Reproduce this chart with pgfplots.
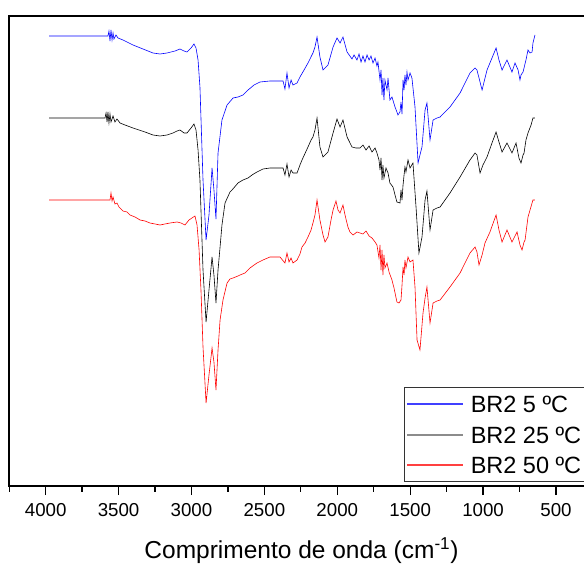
\documentclass[border=0pt]{standalone}
\usepackage{pgfplots}
\pgfplotsset{compat=1.18}
\usepackage{fontspec}
\setmainfont{Liberation Sans}
\colorlet{legblue}{blue!75}
\colorlet{leggray}{black!45}
\colorlet{legred}{red!75}
\begin{document}
\begin{tikzpicture}
\useasboundingbox (0,0) rectangle (584pt,563pt);
\clip (0,0) rectangle (584pt,563pt);
\begin{axis}[
  at={(9.25pt,77pt)}, anchor=south west,
  scale only axis, width=619.65pt, height=470pt,
  x dir=reverse, xmin=0, xmax=4250, ymin=0, ymax=470,
  xtick={500,1000,...,4000}, minor xtick={750,1250,...,4250},
  xtick pos=bottom, ytick=\empty,
  tick align=outside, major tick length=9pt, minor tick length=5.5pt,
  every tick/.style={black, line width=1.3pt},
  axis line style={line width=1.5pt},
  xticklabel style={font=\fontsize{18.7}{20}\selectfont, yshift=-5pt},
  /pgf/number format/1000 sep={},
  /pgf/number format/assume math mode=true,
  xlabel={Comprimento de onda (cm\textsuperscript{-1})},
  xlabel style={font=\fontsize{24.5}{30}\selectfont, at={(axis description cs:0.4716,-0.155)}, anchor=base},
  legend style={at={(axis description cs:0.637,0.21)}, anchor=north west, draw=black!80, line width=0.8pt,
    font=\fontsize{23.5}{28}\selectfont, inner xsep=3pt, inner ysep=1pt, row sep=0pt,
    nodes={text height=17pt, text depth=0pt, inner ysep=6.8pt, inner xsep=7.8pt}},
  legend cell align=left,
]
\addplot[blue, line width=0.6pt, legend image code/.code={\fill[legblue] (0pt,-0.5pt) rectangle (55pt,0.5pt);}] coordinates {
(3977,450) (3573,450) (3566,455) (3559,445) (3552,456) (3545,446) (3538,453) (3532,447) (3518,451) (3504,448)
(3470,446) (3401,441) (3333,437) (3264,433) (3216,432) (3168,433) (3113,435) (3079,437) (3051,435) (3031,434)
(3003,438) (2983,442) (2969,438) (2955,426) (2942,399) (2921,306) (2900,246) (2880,271) (2859,318) (2846,296)
(2832,267) (2818,333) (2791,366) (2756,381) (2715,388) (2681,389) (2647,391) (2612,396) (2571,401) (2530,404)
(2462,405) (2372,405) (2359,397) (2345,413) (2331,398) (2317,406) (2304,401) (2276,403) (2256,409) (2228,416)
(2201,423) (2167,433) (2153,439) (2139,449) (2119,429) (2098,416) (2064,421) (2029,439) (2002,448) (1981,443)
(1961,449) (1933,434) (1899,427) (1885,431) (1865,426) (1851,432) (1837,424) (1824,430) (1810,424) (1796,431)
(1782,426) (1769,430) (1755,423) (1741,428) (1728,420) (1721,424) (1707,406) (1700,416) (1693,391) (1687,408)
(1680,386) (1673,406) (1659,396) (1652,408) (1639,386) (1625,389) (1604,379) (1591,374) (1584,371) (1570,374)
(1563,384) (1556,372) (1549,406) (1542,396) (1536,411) (1529,401) (1522,414) (1515,406) (1501,413) (1488,408)
(1467,379) (1446,323) (1433,331) (1419,339) (1398,376) (1385,383) (1364,346) (1343,366) (1316,368) (1295,369)
(1227,379) (1158,393) (1090,413) (1055,418) (1042,416) (1007,396) (973,416) (939,428) (911,438) (891,426)
(870,416) (836,426) (802,414) (781,423) (760,416) (747,406) (740,411) (726,414) (706,426) (692,436)
(678,433) (664,434) (658,443) (644,451)
};
\addlegendentry{BR2 5 ºC}
\addplot[black, line width=0.6pt, legend image code/.code={\fill[leggray] (0pt,-0.5pt) rectangle (55pt,0.5pt);}] coordinates {
(3977,368) (3593,368) (3586,373) (3579,364) (3573,374) (3566,363) (3559,372) (3552,364) (3538,370) (3525,364)
(3511,367) (3490,363) (3456,361) (3401,358) (3319,354) (3264,351) (3216,350) (3168,351) (3127,353) (3099,355)
(3079,356) (3051,353) (3031,353) (3003,358) (2983,362) (2969,356) (2955,336) (2942,306) (2921,216) (2900,164)
(2880,196) (2859,229) (2846,211) (2832,183) (2818,216) (2804,239) (2791,261) (2770,283) (2736,294) (2722,296)
(2681,303) (2647,306) (2612,308) (2585,311) (2551,314) (2510,317) (2462,318) (2413,318) (2372,318) (2359,311)
(2345,322) (2331,309) (2317,316) (2304,313) (2276,313) (2256,321) (2242,326) (2201,339) (2180,346) (2167,349)
(2153,356) (2139,368) (2119,339) (2098,329) (2064,334) (2029,353) (2002,367) (1981,359) (1961,366) (1933,349)
(1899,339) (1872,338) (1844,338) (1824,341) (1803,336) (1782,340) (1762,334) (1741,338) (1728,333) (1714,326)
(1707,316) (1700,328) (1693,306) (1687,321) (1680,308) (1666,318) (1652,313) (1639,303) (1618,299) (1604,291)
(1591,284) (1570,283) (1563,296) (1556,286) (1549,301) (1542,311) (1536,319) (1529,314) (1515,326) (1501,318)
(1481,323) (1460,279) (1440,233) (1419,249) (1398,286) (1385,295) (1364,256) (1343,276) (1316,278) (1295,279)
(1227,293) (1158,309) (1090,326) (1055,333) (1042,331) (1021,313) (1001,321) (973,329) (939,343) (911,354)
(891,344) (870,334) (836,343) (802,333) (774,343) (754,328) (740,323) (726,331) (719,333) (706,346)
(692,353) (671,361) (658,368) (644,368)
};
\addlegendentry{BR2 25 ºC}
\addplot[red, line width=0.6pt, legend image code/.code={\fill[legred] (0pt,-0.5pt) rectangle (55pt,0.5pt);}] coordinates {
(3977,286) (3559,286) (3552,293) (3545,285) (3538,289) (3525,282) (3511,283) (3497,279) (3470,275) (3442,274)
(3422,271) (3387,269) (3353,266) (3319,265) (3285,263) (3250,262) (3216,261) (3182,262) (3147,263) (3099,264)
(3072,263) (3045,261) (3017,266) (2997,268) (2976,270) (2962,261) (2948,236) (2935,196) (2921,139) (2900,83)
(2880,111) (2859,138) (2846,124) (2832,96) (2818,136) (2804,166) (2784,186) (2756,203) (2736,207) (2715,208)
(2681,210) (2667,211) (2633,213) (2599,218) (2551,223) (2510,226) (2462,229) (2393,229) (2359,223) (2345,233)
(2331,224) (2317,228) (2304,223) (2276,226) (2256,232) (2242,239) (2221,243) (2201,249) (2180,256) (2167,263)
(2153,271) (2139,286) (2119,266) (2098,251) (2084,244) (2064,249) (2043,266) (2029,276) (2009,285) (1995,276)
(1981,273) (1961,281) (1947,271) (1927,259) (1913,254) (1892,251) (1865,254) (1844,253) (1824,252) (1803,255)
(1782,250) (1762,248) (1741,244) (1728,241) (1714,228) (1707,241) (1700,216) (1693,236) (1687,211) (1680,231)
(1673,218) (1659,223) (1645,214) (1625,206) (1611,198) (1591,184) (1577,183) (1563,186) (1556,201) (1549,219)
(1542,211) (1536,226) (1529,218) (1515,229) (1501,224) (1481,226) (1467,199) (1453,146) (1433,136) (1412,173)
(1398,188) (1385,199) (1364,163) (1343,183) (1316,185) (1295,186) (1227,199) (1158,213) (1090,233) (1055,239)
(1042,234) (1028,221) (1007,231) (987,243) (953,254) (911,271) (891,256) (870,244) (836,256) (802,244)
(767,254) (747,241) (733,236) (719,244) (712,246) (692,269) (678,276) (658,286) (644,286)
};
\addlegendentry{BR2 50 ºC}
\end{axis}
\end{tikzpicture}
\end{document}
